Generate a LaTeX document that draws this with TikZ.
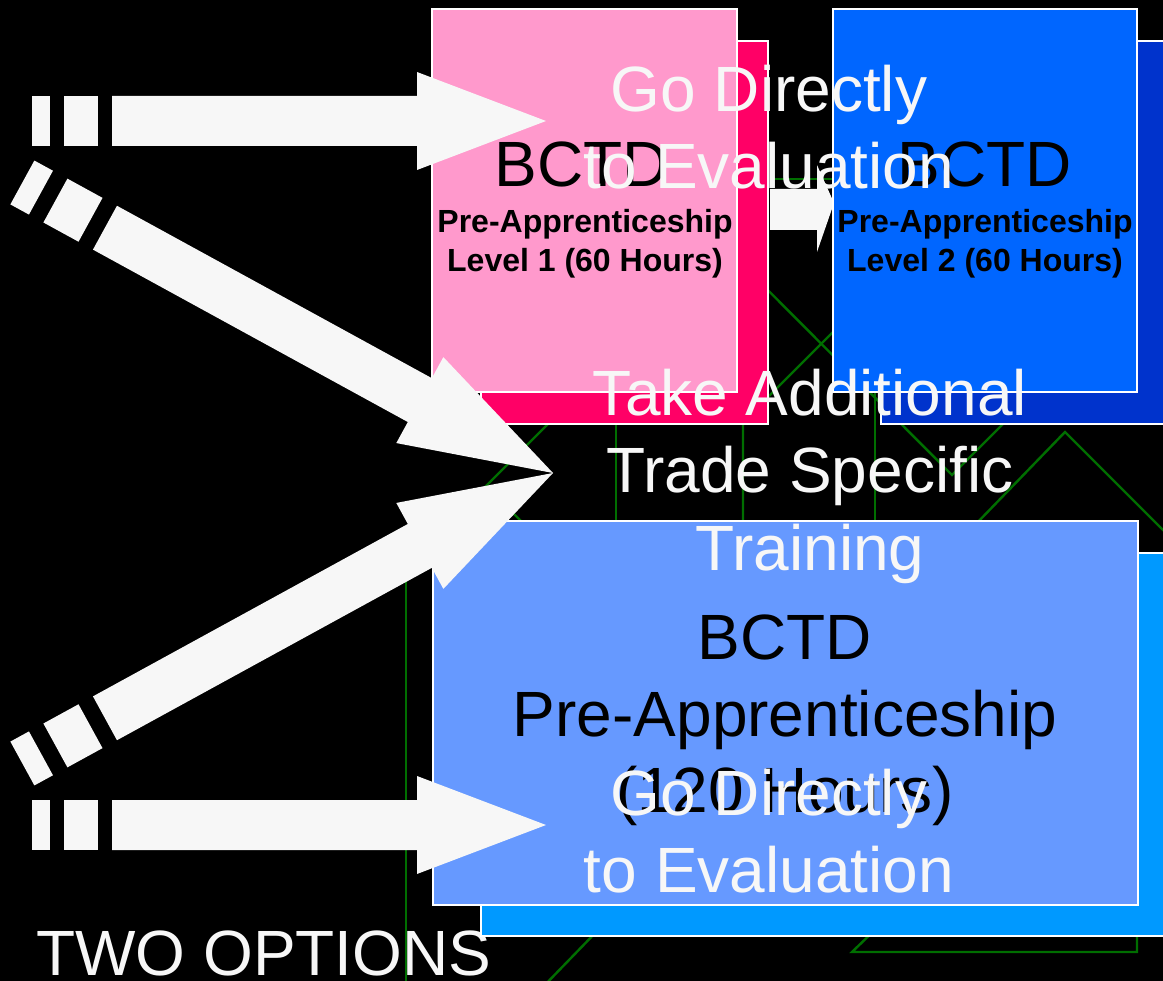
\documentclass[tikz,border=0pt]{standalone}
\usepackage{fontspec}
\setmainfont{Liberation Sans}
\definecolor{pinkF}{HTML}{FF99CC}
\definecolor{pinkB}{HTML}{FF0066}
\definecolor{blueF}{HTML}{0066FF}
\definecolor{blueB}{HTML}{0033CC}
\definecolor{periF}{HTML}{6699FF}
\definecolor{skyB}{HTML}{0099FF}
\definecolor{arrw}{HTML}{F7F7F7}
\definecolor{grn}{HTML}{006E00}
\tikzset{
  box/.style={draw=white, line width=2pt, anchor=north west, inner sep=0pt, outer sep=0pt},
  wtext/.style={text=arrw, font=\fontsize{64pt}{77pt}\selectfont, inner sep=0pt, anchor=base},
  ktext/.style={text=black, font=\fontsize{64pt}{77pt}\selectfont, inner sep=0pt, anchor=base},
  btext/.style={text=black, font=\fontsize{32pt}{40pt}\selectfont\bfseries, inner sep=0pt, anchor=base},
  gline/.style={draw=grn, line width=2.4pt},
  blockarrow/.pic={
    \fill[arrw] (0,0) -- (-129,-49) -- (-129,-25) -- (-434,-25) -- (-434,25) -- (-129,25) -- (-129,49) -- cycle;
    \fill[arrw] (-482,-25) rectangle (-448,25);
    \fill[arrw] (-514,-25) rectangle (-496,25);
  }
}
\begin{document}
\begin{tikzpicture}[x=1pt,y=-1pt]
\useasboundingbox (0,0) rectangle (1163,981);
\fill[black] (0,0) rectangle (1163,981);

% label under the green pattern
\node[wtext, anchor=base west] (two) at (36,975) {TWO OPTIONS};

% green background pattern
\draw[gline] (700,222) -- (952,475) -- (1005,422);
\draw[gline] (860,305) -- (743,422) -- (743,525);
\draw[gline] (616,400) -- (616,525);
\draw[gline] (875,388) -- (875,525);
\draw[gline] (975,525) -- (1065,432) -- (1172,539);
\draw[gline] (880,925) -- (852,952) -- (1137,952) -- (1137,925);
\draw[gline] (540,990) -- (600,928);
\draw[gline] (406,540) -- (406,990);
\draw[gline] (770,179) -- (835,179);
\draw[gline] (560,412) -- (486,486) -- (524,524);

% pink group
\node[box, fill=pinkB, minimum width=287pt, minimum height=383pt] (p1b) at (481,41) {};
\node[box, fill=pinkF, minimum width=305pt, minimum height=383pt] (p1) at (432,9) {};

% small arrow between level boxes
\coordinate (sa1) at (770,189);
\coordinate (sa2) at (834,203);
\fill[arrw] (sa1) -- (817,189) -- (817,165) -- (sa2) -- (817,252) -- (817,230) -- (770,230) -- cycle;

% blue group
\node[box, fill=blueB, minimum width=300pt, minimum height=383pt] (b1b) at (881,41) {};
\node[box, fill=blueF, minimum width=304pt, minimum height=383pt] (b1) at (833,9) {};

% big group
\node[box, fill=skyB, minimum width=700pt, minimum height=383pt] (c1b) at (481,553) {};
\node[box, fill=periF, minimum width=705pt, minimum height=384pt] (c1) at (433,521) {};

% black texts
\node[ktext] (p1t) at (582,187) {BCTD};
\node[btext] (p1u) at (585,233) {Pre-Apprenticeship};
\node[btext] (p1v) at (585,272) {Level 1 (60 Hours)};
\node[ktext] (b1t) at (985,187) {BCTD};
\node[btext] (b1u) at (985,233) {Pre-Apprenticeship};
\node[btext] (b1v) at (985,272) {Level 2 (60 Hours)};
\node[ktext] (c1t) at (785,659) {BCTD};
\node[ktext] (c1u) at (785,736) {Pre-Apprenticeship};
\node[ktext] (c1v) at (785,812) {(120 Hours)};

% block arrows
\coordinate (tipA) at (546,121);
\coordinate (tipB) at (553,473);
\coordinate (tipC) at (546,825);
\pic at (tipA) {blockarrow};
\pic[rotate=-28.7, xscale=1.177] at (tipB) {blockarrow};
\pic[rotate=28.7, xscale=1.177] at (tipB) {blockarrow};
\pic at (tipC) {blockarrow};

% white texts
\node[wtext] (g1a) at (769,112) {Go Directly};
\node[wtext] (g1b) at (769,189) {to Evaluation};
\node[wtext] (m1a) at (810,416) {Take Additional};
\node[wtext] (m1b) at (810,493) {Trade Specific};
\node[wtext] (m1c) at (810,570) {Training};
\node[wtext] (g2a) at (769,815) {Go Directly};
\node[wtext] (g2b) at (769,892) {to Evaluation};
\end{tikzpicture}
\end{document}
